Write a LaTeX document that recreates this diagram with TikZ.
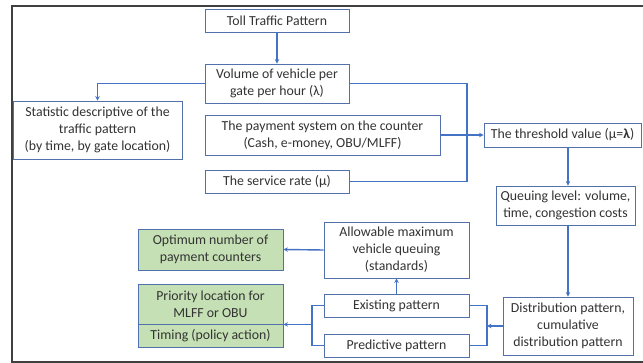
\documentclass[tikz,border=0pt]{standalone}
\usepackage{fontspec}
\setmainfont{Carlito}
\usetikzlibrary{arrows.meta}
\definecolor{lineblue}{RGB}{68,114,196}
\definecolor{boxblue}{RGB}{82,112,170}
\definecolor{greenfill}{RGB}{197,224,180}
\definecolor{framegray}{RGB}{64,64,64}
\tikzset{
  box/.style={draw=boxblue, line width=0.9pt, fill=white, inner sep=0pt, align=center,
    font=\fontsize{13.8}{17}\selectfont, text=black!80},
  gbox/.style={box, fill=greenfill},
  conn/.style={draw=lineblue, line width=1.4pt},
  arr/.style={conn, -{Stealth[length=4.5pt,width=4.5pt]}},
}
\begin{document}
\begin{tikzpicture}[x=1pt,y=-1pt]
\useasboundingbox (0,0) rectangle (643,363);
\draw[framegray, line width=2pt] (12,6) rectangle (650,362);
% nodes
\node[box, minimum width=144, minimum height=23] (toll) at (277,20.5) {Toll Traffic Pattern};
\node[box, minimum width=144, minimum height=39] (vol) at (277,83.5) {Volume of vehicle per\\gate per hour (λ)};
\node[box, minimum width=169, minimum height=58] (stat) at (97.5,130) {Statistic descriptive of the\\traffic pattern\\(by time, by gate location)};
\node[box, minimum width=235, minimum height=40] (pay) at (322.5,135) {The payment system on the counter\\(Cash, e-money, OBU/MLFF)};
\node[box, minimum width=144, minimum height=23] (serv) at (277,181.5) {The service rate (μ)};
\node[box, minimum width=157, minimum height=24] (thr) at (562.5,135) {The threshold value (μ=\textbf{λ})};
\node[box, minimum width=139, minimum height=39] (que) at (565.5,205.5) {Queuing level: volume,\\time, congestion costs};
\node[box, minimum width=130, minimum height=58] (dist) at (568,326) {Distribution pattern,\\cumulative\\distribution pattern};
\node[box, minimum width=145, minimum height=56] (allow) at (396.5,250) {Allowable maximum\\vehicle queuing\\(standards)};
\node[box, minimum width=145, minimum height=23] (exist) at (396.5,305.5) {Existing pattern};
\node[box, minimum width=145, minimum height=23] (pred) at (396.5,345.5) {Predictive pattern};
\node[gbox, minimum width=145, minimum height=41] (opt) at (210.5,249.5) {Optimum number of\\payment counters};
\node[gbox, minimum width=145, minimum height=40] (prio) at (210.5,304) {Priority location for\\MLFF or OBU};
\node[gbox, minimum width=145, minimum height=23] (tim) at (210.5,335.5) {Timing (policy action)};
% connector coordinates
\coordinate (bx) at (467,0);
\coordinate (rb) at (487,0);
\coordinate (lb) at (312,0);
\coordinate (dx) at (568,0);
% connectors
\draw[arr] (toll) -- (vol);
\draw[arr] (vol.west) -| (stat.north);
\draw[conn] (vol.east) -| (vol.east -| bx) |- (serv.east);
\draw[arr] (pay.east) -- (thr.west);
\draw[arr] (thr.south -| dx) -- (que.north -| dx);
\draw[arr] (que.south -| dx) -- (dist.north);
\draw[conn] (exist.east) -| (pred.east -| rb) -- (pred.east);
\draw[arr] (dist.west) -- (dist.west -| rb);
\draw[arr] (exist.north) -- (allow.south);
\draw[arr] (allow.west) -- (opt.east);
\draw[conn] (exist.west) -| (pred.west -| lb) -- (pred.west);
\draw[arr] (prio.south -| lb) -- (prio.south east);
\end{tikzpicture}
\end{document}
